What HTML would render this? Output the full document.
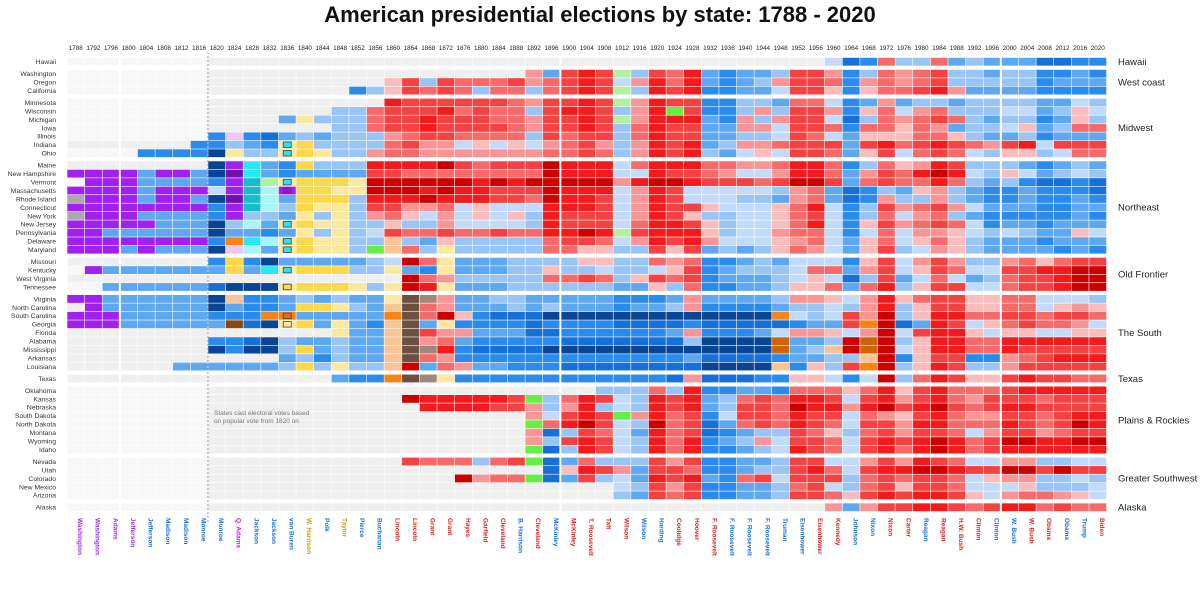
<!DOCTYPE html>
<html><head><meta charset="utf-8"><style>
html,body{margin:0;padding:0;background:#fff;width:1200px;height:600px;overflow:hidden}
svg{display:block;font-family:"Liberation Sans",sans-serif}
</style></head><body>
<svg id="chart" width="1200" height="600" viewBox="0 0 1200 600">
<text x="600" y="22" text-anchor="middle" font-size="22" font-weight="bold" fill="#111">American presidential elections by state: 1788 - 2020</text>
<g id="grid"></g>
<g id="labels"></g>
</svg>
<script>
const years = [];
for (let y = 1788; y <= 2020; y += 4) years.push(y);
const winners = ["Washington","Washington","Adams","Jefferson","Jefferson","Madison","Madison","Monroe","Monroe","Q. Adams","Jackson","Jackson","van Buren","W. Harrison","Polk","Taylor","Pierce","Buchanan","Lincoln","Lincoln","Grant","Grant","Hayes","Garfield","Cleveland","B. Harrison","Cleveland","McKinley","McKinley","T. Roosevelt","Taft","Wilson","Wilson","Harding","Coolidge","Hoover","F. Roosevelt","F. Roosevelt","F. Roosevelt","F. Roosevelt","Truman","Eisenhower","Eisenhower","Kennedy","Johnson","Nixon","Nixon","Carter","Reagan","Reagan","H.W. Bush","Clinton","Clinton","W. Bush","W. Bush","Obama","Obama","Trump","Biden"];
const winnerParty = "ppppbbbbbqbbbwbwbbrrrrrrrbrbrrrrbbrrrbbbbbrrbbrrbrrrbbrrbbrb";
const groupNames = ["Hawaii","West coast","Midwest","Northeast","Old Frontier","The South","Texas","Plains & Rockies","Greater Southwest","Alaska"];
const groupSizes = [1,3,7,11,4,9,1,8,5,1];
const states = ["Hawaii","Washington","Oregon","California","Minnesota","Wisconsin","Michigan","Iowa","Illinois","Indiana","Ohio","Maine","New Hampshire","Vermont","Massachusetts","Rhode Island","Connecticut","New York","New Jersey","Pennsylvania","Delaware","Maryland","Missouri","Kentucky","West Virginia","Tennessee","Virginia","North Carolina","South Carolina","Georgia","Florida","Alabama","Mississippi","Arkansas","Louisiana","Texas","Oklahoma","Kansas","Nebraska","South Dakota","North Dakota","Montana","Wyoming","Idaho","Nevada","Utah","Colorado","New Mexico","Arizona","Alaska"];
// one code per election: a-f Dem/DR blue (light->dark), A-F Rep red, others third parties
const results = [
["........","------------","--------","--------","-------a","edCbbCcb","ccceedd"],
["........","------------","------Bc","DEDGbDCE","cdccbDDB","dbCBCDbb","cbbddcd"],
["........","----------AD","bDCCCDBC","DEDaBECE","cdcbBDDC","dBCBCDbb","bbbdccc"],
["........","--------dbAD","CDCbCCbC","DEDGbEDE","ddccaDDA","dACCDEBc","cccdddd"],
["........","----------ED","DDDDDCBD","DEDGBEDD","ddbbcCCa","dcBcbbcb","bbbccab"],
["........","-------bbCDD","DECDCCbD","EEDbBEgD","ddbBbDDB","dACaBCbb","baacbAa"],
["........","----cYbbbCDD","EDDDCCBD","DEDGBEEE","cdBbBDDa","ebCBCDCb","cbbdcAb"],
["........","-------bbCDD","EDDDDCBD","DEDbCEDD","ccBBaDDC","dCCACBcb","baAcbCC"],
["........","dqdecbcbbbBC","DDCCCCbD","CDDbCEDD","ccbbaDCa","cAAACCAb","ccbdccc"],
["-------d","dbcdYybbbbCD","BBaAaAaB","CDBbBEDE","cbBBCDDD","cDECDEDC","BDEaDDD"],
["....dddd","fYbbYyYbbBCC","BBBBBBBC","CDCbBEDE","bcaAaDDC","cADaCDCa","bAAbaCC"],
["--------","fptcdybbbEEE","EFDCDDDF","EEEaCEEE","CCBBCEEC","dbCABEDb","bbcdcbc"],
["ppppcppc","fPtcdccccDDC","CCCCCCCF","EEEaaEDD","CBaaBEEC","cBDCEFEa","bAacbab"],
[".pppcccc","dpmGYyyyYFFF","FFFEFEFF","FFFBEFFE","DDDCDFFD","cCDCCECb","cbdeede"],
["ppppcppp","apmTpyyYYFFF","EFEEDDDF","EEEaBEDa","aaaabBCc","edbcABbc","ddcddde"],
["kpppcppc","fPmTcyyybEEE","FEEEDDCF","EEDaBEDa","aabbcBCc","edBbbBbc","ddcddcd"],
["pppppppp","dpmTbyYYbDDB","BCaAaaaE","EEDaBEDD","AaaaACEa","dbDBCDBa","cccddcc"],
["kpppcccc","dpbbcYbYbBCA","aBaAaAbE","DDDaBEDA","bbaaACDa","dbCaBCbc","dddddcd"],
["pppppccc","fbTcYyYYbbAb","bBaaaabE","DDDaCEED","AbaaACEa","dADBCDCa","dccdccc"],
["ppcccccc","fccdcYbYbaDC","CDCCDCCE","EFEGDEEE","AbaaBCCa","daCaBBAa","babccAa"],
["pppppppp","dotTYyYYbbOb","cAbbbbbC","DDCaBEDE","BaaaABCa","cACaACAb","cccdccc"],
["pppcpccc","fqTcYyYYbgOC","bYbbbbbC","CAAbbDAD","cbcbACBa","cADbaBAb","ccccdcd"],
["--------","dydfcccccbaF","CYcccbbb","bAAbbCBC","ddcbcaaa","dADaBDBb","bBCACDD"],
[".pcccccc","cyctYyyybbYc","dYcccbbA","bbabbaAD","dcbbbaCC","cBDaADCa","aDDEEFF"],
["--------","-----------F","CBbbbbbC","CDCbADCD","dcccbaAa","ebDcaCac","bCDDEFF"],
["..cccccc","efffYyyyYbYF","EYcccbbb","bbbccAbC","ddccbAAC","cCEbADDa","aCDDEFF"],
["ppcccccc","fOddcbcbccYn","NBccbbcc","cccdddcB","ccccbBBA","aBEACDDA","ACCaaab"],
["-pcccccc","fcddcyyYbcOn","CBcccbcb","cccdccbB","ddddcbba","bBEbADDA","ACCaABA"],
["pppccccc","dddoocccccon","CFAdeeef","ffffffff","ffffoaba","DBFbAEEC","CDDCDDC"],
["pppccccc","crefYycYcdOn","cYdddded","dddeeeed","eeeeedcc","DoFecEDa","ACDCCBa"],
["--------","-------YccOn","DBBcccee","ddddddcB","dddcaBBA","aBFaDEEA","aAAaaAA"],
["--------","ddefbccbccOn","BCcddddd","eeeeeeeb","ffffuccb","FuFbAEEC","CEEEEEE"],
["--------","fdffbycbccOn","NEdeeeef","ffffffff","ffffucbO","FuFaAEEC","CEDDDDD"],
["--------","----cbdbccOn","CBdddddd","dddddddc","eeeedccb","bOFdADDd","dBCDEEE"],
["------cc","ccccbybYbbOF","cCBccddd","eeeeeeee","ffffOdAb","DoFbAEDb","bBDDDDD"],
["--------","-------cddon","NYdddddd","ddddddeB","eeeddAAa","daFbCEDA","ADEDDCC"],
["........","------------","--------","--bbbCbE","ddccdCCC","ACEADECC","CDEEEEE"],
["........","-----------F","EEEEEDgb","CEDabEDE","cbCDCEED","aDEBDECB","DDDCDDD"],
["........","------------","EEEEDDBb","BEbabEDE","cbDDCFEE","BEFDEFDC","DEEDDDD"],
["........","------------","------Ba","DEDgBECD","daDDCEDD","aCBADECB","BDDCDEE"],
["........","------------","------gC","EFDabFCD","ecCDCEDC","aDDBEECC","CEDCDFE"],
["........","------------","------Be","bDCacECD","edcbbDCA","bCDBDDCa","BDDBCDD"],
["........","------------","------Bb","DEDabECE","dcbBaDDC","aDEDEFEC","DFFEEFF"],
["........","------------","------ge","bEDabECE","ddcbaEDC","aDECEFEC","DEEEEEE"],
["........","-----------D","CCCbCDge","cCbbbDBD","ddccbDDa","aBDBEDCa","aBBbbaa"],
["........","------------","-------e","AEDBcDDC","ddcbbDEC","aDEEFFED","DFFDFDD"],
["........","------------","--FBCCge","cDbacEDE","cdCDaDDD","bCDCDDCa","ABBbbab"],
["........","------------","--------","---abDBD","ddccbCDa","bCDADDCa","aaAbbba"],
["........","------------","--------","---bcDCD","ddccbDDC","ADEDEEDA","aBCCBAa"],
["........","------------","--------","--------","-------B","cBDDEEDC","DEECDCC"]
];
const markerStates = ["Indiana","Ohio","Vermont","Massachusetts","New Jersey","Delaware","Maryland","Kentucky","Tennessee","South Carolina","Georgia"];
const markerFills = ["#30e0f0","#30e0f0","#30e0f0","#a010d0","#30e0f0","#30e0f0","#30e0f0","#30e0f0","#fdd84c","#e07010","#fde8a0"];
const markerYear = 1836;

const COLORS = {'.':'#f7f7f7','-':'#efefef','k':'#a8a8a8',
 a:'#c2dbfa',b:'#98c4f6',c:'#5ea8f2',d:'#2a8bec',e:'#1770d8',f:'#0a4594',
 A:'#fbbcbc',B:'#f99595',C:'#f66a6a',D:'#f44242',E:'#f21a1a',F:'#cc0000',
 p:'#a020f0',P:'#7010a8',q:'#ecc8fa',y:'#fdd84c',Y:'#fde8a0',t:'#28e8f4',T:'#a8f6fb',m:'#18bcc8',
 G:'#b4f0a0',g:'#66ee44',o:'#f88414',O:'#fcc494',u:'#d06208',n:'#6e5040',N:'#a08878',r:'#8e4510'};
const PARTY = {p:'#9b30e0',q:'#c020d0',b:'#1a6fd6',w:'#c8a000',r:'#e02020'};

const NS = 'http://www.w3.org/2000/svg';
const X0 = 67, CW = 17.62, Y0 = 57.5, RH = 8.45, GAP = 3.5;
const xScale = i => X0 + i * CW;
const rowTop = [];
{ let y = Y0; groupSizes.forEach(n => { for (let k = 0; k < n; k++) { rowTop.push(y); y += RH; } y += GAP; }); }
function mk(tag, attrs, parent) { const e = document.createElementNS(NS, tag); for (const k in attrs) e.setAttribute(k, attrs[k]); parent.appendChild(e); return e; }
const grid = document.getElementById('grid');
const lab = document.getElementById('labels');

results.forEach((segs, si) => {
  const codes = segs.join('').padEnd(years.length, '-');
  for (let i = 0; i < years.length; i++) {
    const r = mk('rect', {x: xScale(i) + 0.3, y: rowTop[si] + 0.3, width: CW - 0.6, height: RH - 0.6, fill: COLORS[codes[i]] || '#efefef'}, grid);
    
    
  }
  const t = mk('text', {x: 56, y: rowTop[si] + RH / 2 + 2.4, 'text-anchor': 'end', 'font-size': 6.8, fill: '#333'}, lab);
  t.textContent = states[si];
  
  
});
markerStates.forEach((s, k) => {
  const si = states.indexOf(s), i = years.indexOf(markerYear);
  const m = mk('rect', {x: xScale(i) + CW / 2 - 4, y: rowTop[si] + RH / 2 - 2.8, width: 8, height: 5.6, fill: markerFills[k], stroke: '#444', 'stroke-width': 0.8}, grid);
  
  
});
const gridBottom = rowTop[rowTop.length - 1] + RH;
[3, 28, 53].forEach(i => {
  const s = mk('rect', {x: xScale(i) - 1, y: Y0 - 1, width: 2, height: gridBottom - Y0 + 2, fill: '#fff'}, grid);
  
  
});
const dl = mk('line', {x1: xScale(8), x2: xScale(8), y1: 52, y2: 522, stroke: '#888', 'stroke-width': 0.8, 'stroke-dasharray': '2,2'}, grid);



years.forEach((yr, i) => {
  const t = mk('text', {x: xScale(i) + CW / 2, y: 50, 'text-anchor': 'middle', 'font-size': 6.3, fill: '#222'}, lab);
  t.textContent = yr;
  
  
  const w = mk('text', {transform: 'translate(' + (xScale(i) + CW / 2 + 2.3) + ',518) rotate(90)', 'font-size': 6.5, 'font-weight': 'bold', fill: PARTY[winnerParty[i]]}, lab);
  w.textContent = winners[i];
  
  
});
let gi = 0;
groupSizes.forEach((n, g) => {
  const top = rowTop[gi], bot = rowTop[gi + n - 1] + RH; gi += n;
  const t = mk('text', {x: 1118, y: (top + bot) / 2 + 3.3, 'font-size': 9.5, fill: '#222'}, lab);
  t.textContent = groupNames[g];
  
  
});
['States cast electoral votes based', 'on popular vote from 1820 on'].forEach((s, k) => {
  const t = mk('text', {x: 214, y: 415 + k * 8, 'font-size': 6.5, fill: '#777'}, lab);
  t.textContent = s;
  
  
});
</script>
</body></html>
